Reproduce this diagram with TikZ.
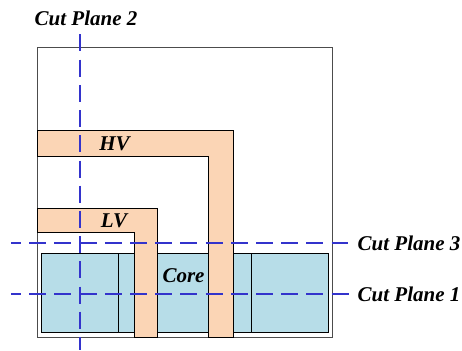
\documentclass[tikz,border=0pt]{standalone}
\usepackage{fontspec}
\setmainfont{Liberation Serif}
\usetikzlibrary{positioning}
\definecolor{corecol}{HTML}{B7DDE8}
\definecolor{coilcol}{HTML}{FBD5B5}
\definecolor{cutcol}{HTML}{3333CC}
\tikzset{
  tank/.style={draw=black!70,line width=1pt},
  core/.style={draw=black,fill=corecol,line width=0.9pt},
  coil/.style={draw=black,fill=coilcol,line width=0.9pt},
  cut/.style={draw=cutcol,line width=1.8pt,dash pattern=on 17pt off 8.2pt},
  cutoff/.style={dash phase=7pt},
  lab/.style={font=\fontsize{21}{21}\selectfont\bfseries\itshape,inner sep=0pt}
}
\begin{document}
\begin{tikzpicture}[x=1pt,y=-1pt]
    \useasboundingbox (0,0) rectangle (462,350);
    \draw[tank] (37.3,47.5) rectangle (332.7,337.3);
    \draw[core] (41.7,253.3) rectangle (328.3,332.3);
    \draw[core] (118.7,253.3) -- (118.7,332.3);
    \draw[core] (251.7,253.3) -- (251.7,332.3);

    % windings
    \draw[coil] (37.3,130.7) -- (233.3,130.7) -- (233.3,337.3) -- (208.3,337.3) -- (208.3,156) -- (37.3,156) -- cycle;
    \draw[coil] (37.3,208.3) -- (157.3,208.3) -- (157.3,337.3) -- (134,337.3) -- (134,232) -- (37.3,232) -- cycle;

    \node at (114.5,143.5) [lab] (HV) {HV};
    \node at (114,220.5) [lab] (LV) {LV};
    \node at (183.5,275.5) [lab] (Core) {Core};
    \node at (86,18.5) [lab] (Cut2) {Cut Plane 2};
    \node at (409,243) [lab] (Cut3) {Cut Plane 3};
    \node at (409,294) [lab] (Cut1) {Cut Plane 1};

    \coordinate (Cut2a) at (80,34.5);
    \coordinate (Cut2b) at (80,350);
    \coordinate (Cut3a) at (11,242.7);
    \coordinate (Cut3b) at (348,242.7);
    \coordinate (Cut1a) at (11,294);
    \coordinate (Cut1b) at (349,294);
    \draw[cut] (Cut2a) -- (Cut2b);
    \draw[cut,cutoff] (Cut3a) -- (Cut3b);
    \draw[cut,cutoff] (Cut1a) -- (Cut1b);
\end{tikzpicture}
\end{document}
